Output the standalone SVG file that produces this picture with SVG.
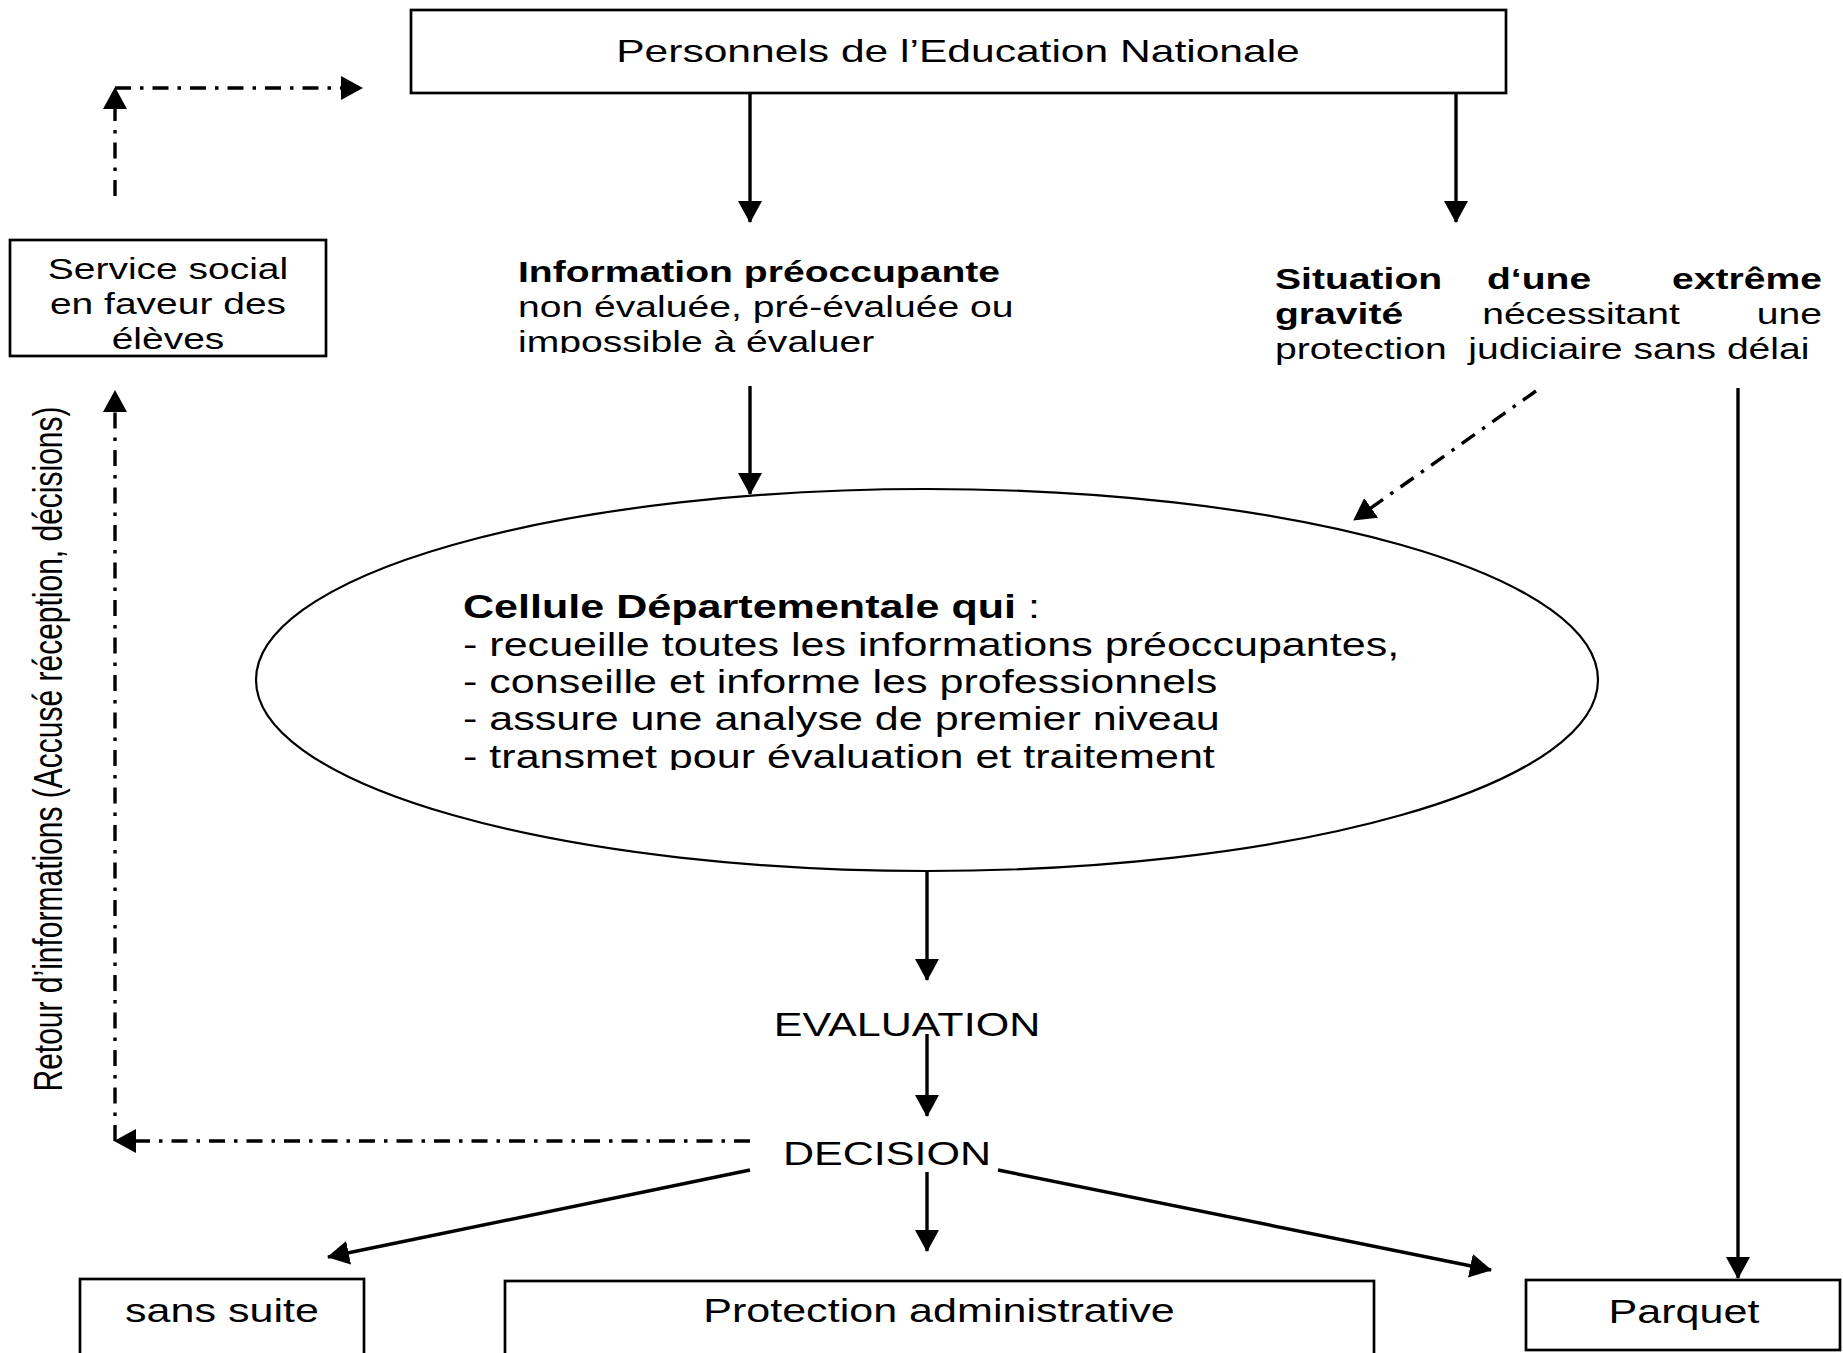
<svg xmlns="http://www.w3.org/2000/svg" width="1843" height="1353" viewBox="0 0 1843 1353">
<style>
.box{fill:#fff;stroke:#000;stroke-width:2.7}
.ln{fill:none;stroke:#000;stroke-width:3.4}
.dd{fill:none;stroke:#000;stroke-width:3.4;stroke-dasharray:16 9 3.5 9}
.t{font-family:"Liberation Sans",Arial,sans-serif;fill:#000}
.b{font-weight:bold}
.m{text-anchor:middle}
.e{text-anchor:end}
.s32{font-size:32.4px}
.s29{font-size:29.4px}
</style>
<defs>
<marker id="ah" viewBox="0 0 22 24" refX="21" refY="12" markerWidth="22" markerHeight="24" markerUnits="userSpaceOnUse" orient="auto">
<path d="M0,0 L22,12 L0,24 z" fill="#000" stroke="none"/>
</marker>
<clipPath id="cSvc"><rect x="10" y="240" width="316" height="109"/></clipPath>
<clipPath id="cInfo"><rect x="500" y="240" width="560" height="113"/></clipPath>
<clipPath id="cCell"><rect x="440" y="580" width="1000" height="190"/></clipPath>
</defs>
<rect width="1843" height="1353" fill="#fff"/>

<g id="connectors">
<line class="ln" x1="750" y1="93" x2="750" y2="222" marker-end="url(#ah)"/>
<line class="ln" x1="1456" y1="93" x2="1456" y2="222" marker-end="url(#ah)"/>
<line class="ln" x1="750" y1="386" x2="750" y2="494" marker-end="url(#ah)"/>
<line class="dd" x1="1536" y1="391" x2="1354" y2="520" marker-end="url(#ah)"/>
<line class="ln" x1="1738" y1="388" x2="1738" y2="1278" marker-end="url(#ah)"/>
<line class="ln" x1="927" y1="872" x2="927" y2="980" marker-end="url(#ah)"/>
<line class="ln" x1="927" y1="1034" x2="927" y2="1116" marker-end="url(#ah)"/>
<line class="ln" x1="927" y1="1172" x2="927" y2="1251" marker-end="url(#ah)"/>
<line class="ln" x1="750" y1="1170" x2="328" y2="1257" marker-end="url(#ah)"/>
<line class="ln" x1="998" y1="1170" x2="1491" y2="1270" marker-end="url(#ah)"/>
<line class="dd" x1="750" y1="1141" x2="115" y2="1141" marker-end="url(#ah)"/>
<line class="dd" x1="115" y1="1141" x2="115" y2="391" marker-end="url(#ah)"/>
<line class="dd" x1="115" y1="196" x2="115" y2="88" marker-end="url(#ah)"/>
<line class="dd" x1="115" y1="88" x2="362" y2="88" marker-end="url(#ah)"/>
</g>

<g id="personnels">
<rect class="box" x="411" y="10" width="1095" height="83"/>
<text class="t m" style="font-size:32px" transform="translate(958,62) scale(1.33,1)">Personnels de l’Education Nationale</text>
</g>

<g id="service-social">
<rect class="box" x="10" y="240" width="316" height="116"/>
<g clip-path="url(#cSvc)">
<text class="t m" style="font-size:29.3px" transform="translate(168,279) scale(1.33,1)">Service social</text>
<text class="t m" style="font-size:29.3px" transform="translate(168,314) scale(1.33,1)">en faveur des</text>
<text class="t m" style="font-size:29.3px" transform="translate(168,349) scale(1.33,1)">élèves</text>
</g>
</g>

<g id="information">
<g clip-path="url(#cInfo)">
<text class="t s29 b" transform="translate(518,282) scale(1.33,1)">Information préoccupante</text>
<text class="t s29" transform="translate(518,317) scale(1.33,1)">non évaluée, pré-évaluée ou</text>
<text class="t s29" transform="translate(518,352) scale(1.33,1)">impossible à évaluer</text>
</g>
</g>

<g id="situation">
<text class="t s29 b" transform="translate(1275,289) scale(1.33,1)">Situation</text>
<text class="t s29 b m" transform="translate(1539,289) scale(1.33,1)">d‘une</text>
<text class="t s29 b e" transform="translate(1822,289) scale(1.33,1)">extrême</text>
<text class="t s29 b" transform="translate(1275,324) scale(1.33,1)">gravité</text>
<text class="t s29 m" transform="translate(1581,324) scale(1.33,1)">nécessitant</text>
<text class="t s29 e" transform="translate(1822,324) scale(1.33,1)">une</text>
<text class="t s29" transform="translate(1275,358.5) scale(1.33,1)" xml:space="preserve">protection  judiciaire sans délai</text>
</g>

<g id="cellule">
<ellipse cx="927" cy="680" rx="671" ry="191" fill="#fff" stroke="#000" stroke-width="2.2"/>
<g clip-path="url(#cCell)">
<text class="t s32" transform="translate(463,618) scale(1.33,1)"><tspan class="b">Cellule Départementale qui</tspan> :</text>
<text class="t s32" transform="translate(463,655.5) scale(1.33,1)">- recueille toutes les informations préoccupantes,</text>
<text class="t s32" transform="translate(463,693) scale(1.33,1)">- conseille et informe les professionnels</text>
<text class="t s32" transform="translate(463,730) scale(1.33,1)">- assure une analyse de premier niveau</text>
<text class="t s32" transform="translate(463,767.5) scale(1.33,1)">- transmet pour évaluation et traitement</text>
</g>
</g>

<g id="evaluation">
<text class="t s32 m" transform="translate(907,1036) scale(1.33,1)">EVALUATION</text>
</g>

<g id="decision">
<text class="t s32 m" transform="translate(887,1165) scale(1.33,1)">DECISION</text>
</g>

<g id="retour">
<text class="t m" style="font-size:30px" transform="translate(62,749) scale(1.33,1) rotate(-90)">Retour d’informations (Accusé réception, décisions)</text>
</g>

<g id="sans-suite">
<rect class="box" x="80" y="1279" width="284" height="90"/>
<text class="t s32 m" transform="translate(222,1322) scale(1.33,1)">sans suite</text>
</g>

<g id="protection-administrative">
<rect class="box" x="505" y="1281" width="869" height="90"/>
<text class="t s32 m" transform="translate(939,1322) scale(1.33,1)">Protection administrative</text>
</g>

<g id="parquet">
<rect class="box" x="1526" y="1280" width="314" height="70"/>
<text class="t s32 m" transform="translate(1684,1323) scale(1.33,1)">Parquet</text>
</g>
</svg>
